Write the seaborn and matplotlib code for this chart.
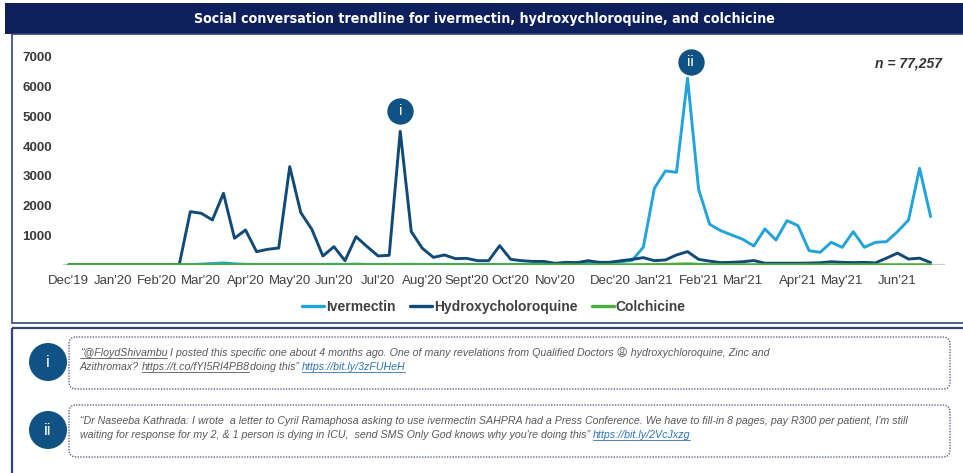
import matplotlib
matplotlib.use("Agg")
import matplotlib.pyplot as plt
import pandas as pd
import seaborn as sns
from matplotlib.patches import Rectangle, FancyBboxPatch, Circle
from matplotlib.font_manager import FontProperties

# weekly mention counts, Dec'19 -> Jun'21 (79 weeks)
ivermectin = [10, 10, 10, 10, 10, 10, 10, 10, 10, 10, 10,
              15, 30, 50, 70, 40, 25, 20, 20, 20, 20,
              20, 20, 20, 25, 20, 30, 20, 20, 20, 20,
              25, 20, 20, 20, 20, 20, 20, 20, 20, 20,
              20, 20, 20, 30, 60, 70, 90, 80, 90, 110,
              160, 600, 2580, 3165, 3120, 6286, 2549, 1370, 1156, 1010,
              865, 640, 1212, 842, 1493, 1324, 482, 426, 763, 595,
              1122, 595, 763, 785, 1122, 1515, 3254, 1627]
hydroxy = [5, 5, 5, 5, 5, 5, 5, 5, 5, 5, 10,
           1795, 1740, 1515, 2414, 900, 1178, 448, 528, 572, 3310,
           1762, 1200, 303, 617, 145, 953, 620, 303, 327, 4500,
           1122, 561, 258, 337, 213, 224, 145, 145, 650, 190,
           145, 120, 120, 56, 90, 80, 145, 90, 90, 145,
           190, 247, 145, 170, 337, 450, 190, 130, 80, 90,
           110, 150, 60, 60, 60, 60, 65, 75, 110, 90,
           80, 90, 70, 230, 400, 200, 230, 80]
colchicine = [8, 8, 8, 8, 8, 8, 8, 8, 8, 8, 8,
              10, 10, 12, 12, 10, 10, 10, 10, 10, 10,
              10, 10, 10, 10, 10, 12, 10, 10, 10, 10,
              10, 10, 10, 10, 10, 10, 10, 10, 10, 10,
              10, 10, 10, 10, 10, 10, 10, 10, 10, 10,
              12, 15, 15, 20, 30, 40, 25, 15, 12, 10,
              10, 10, 10, 10, 10, 10, 10, 10, 10, 10,
              10, 10, 10, 10, 10, 10, 10, 10]

tick_weeks = [0, 4, 8, 12, 16, 20, 24, 28, 32, 36, 40, 44, 49, 53, 57, 61, 66, 70, 75]
tick_labels = ["Dec'19", "Jan'20", "Feb'20", "Mar'20", "Apr'20", "May'20", "Jun'20",
               "Jul'20", "Aug'20", "Sept'20", "Oct'20", "Nov'20", "Dec'20", "Jan'21",
               "Feb'21", "Mar'21", "Apr'21", "May'21", "Jun'21"]

drugs = ["Ivermectin", "Hydroxycholoroquine", "Colchicine"]
colors = ["#22a3d9", "#114a77", "#4aac3c"]

df = pd.concat([
    pd.DataFrame({"week": range(len(v)), "mentions": v, "drug": d})
    for d, v in zip(drugs, [ivermectin, hydroxy, colchicine])
])

sns.set_style("white")
plt.rcParams["font.family"] = ["Liberation Sans", "DejaVu Sans"]

fig = plt.figure(figsize=(9.63, 4.73), dpi=100)
renderer = fig.canvas.get_renderer()

# background / decoration layer in pixel coords
bg = fig.add_axes([0, 0, 1, 1])
bg.set_xlim(0, 963)
bg.set_ylim(473, 0)
bg.axis("off")

navy = "#0d1f5c"
bg.add_patch(Rectangle((5, 3), 965, 31, color=navy, lw=0))
title = "Social conversation trendline for ivermectin, hydroxychloroquine, and colchicine"
t = bg.text(484, 19, title, color="white", weight="bold", fontsize=12,
            ha="center", va="center", family="DejaVu Sans", fontstretch="condensed")
tw = t.get_window_extent(renderer).width
t.set_fontsize(12 * 578 / tw)

frame = "#34447a"
bg.add_patch(Rectangle((12, 34), 960, 289, fill=False, ec=frame, lw=1.2))
bg.add_patch(Rectangle((12, 328), 960, 150, fill=False, ec=frame, lw=1.6))

# main chart
ax = fig.add_axes([63 / 963, 1 - 265 / 473, 882 / 963, 208 / 473])
ax.patch.set_alpha(0)
ax.axhline(0, color="#c9c9c9", lw=1.6, zorder=0.5)
sns.lineplot(data=df, x="week", y="mentions", hue="drug", hue_order=drugs,
             palette=colors, lw=2.1, ax=ax)
ax.set_xlim(-0.52, 79.3)
ax.set_ylim(0, 7000)
for s in ax.spines.values():
    s.set_visible(False)
ax.set_xlabel("")
ax.set_ylabel("")
ax.set_yticks([1000, 2000, 3000, 4000, 5000, 6000, 7000])
ax.set_yticklabels(["1000", "2000", "3000", "4000", "5000", "6000", "7000"],
                   fontweight="bold", color="#3a3a3a", fontsize=9.5)
ax.set_xticks(tick_weeks)
ax.set_xticklabels(tick_labels, color="#404040", fontsize=9.5)
ax.tick_params(axis="y", length=0, pad=8)
ax.tick_params(axis="x", length=0, pad=7)

sns.move_legend(ax, "center", bbox_to_anchor=(494 / 963, 1 - 307 / 473),
                bbox_transform=fig.transFigure, ncol=3, frameon=False, title=None,
                fontsize=10, handlelength=1.6, handletextpad=0.15, columnspacing=1.0)
for txt in ax.get_legend().get_texts():
    txt.set_fontweight("bold")
    txt.set_color("#404040")
for ln in ax.get_legend().get_lines():
    ln.set_linewidth(2.4)

badge = "#0f5283"
for wk, val, lab in [(30, 5185, "i"), (56.3, 6835, "ii")]:
    ax.scatter([wk], [val], s=360, color=badge, zorder=6, clip_on=False, linewidths=0)
    ax.text(wk, val, lab, color="white", ha="center", va="center", fontsize=11, zorder=7)

bg.text(942, 63, "n = 77,257", ha="right", va="center", fontsize=10,
        fontweight="bold", fontstyle="italic", color="#333333")

# quote boxes
for cy, lab in [(362, "i"), (430, "ii")]:
    bg.add_patch(Circle((48, cy), 19, color=badge, lw=0))
    bg.text(48, cy, lab, color="white", ha="center", va="center", fontsize=12)
for top in [337, 405]:
    bg.add_patch(FancyBboxPatch((69, top), 881, 52,
                                boxstyle="round,pad=0,rounding_size=7",
                                fill=False, ec="#5b6585", lw=1.0, ls=(0, (1, 1))))

prop = FontProperties(family=["Liberation Sans", "DejaVu Sans"], style="italic", size=7.7)
gray = "#595959"
link = "#2e74b5"
space = (renderer.get_text_width_height_descent("a a", prop, ismath=False)[0]
         - renderer.get_text_width_height_descent("aa", prop, ismath=False)[0])


def rich(x, y, parts):
    # parts: (text, colour, underline); spaces at the ends are advanced by hand
    for txt, col, ul in parts:
        core = txt.strip(" ")
        x += space * (len(txt) - len(txt.lstrip(" ")))
        if core:
            tt = bg.text(x, y, core, fontproperties=prop, color=col, va="baseline", ha="left")
            bb = tt.get_window_extent(renderer)
            if ul:
                bg.plot([x, x + bb.width - 1], [y + 1.8, y + 1.8], color=col, lw=0.6)
            x += bb.width
        x += space * (len(txt) - len(txt.rstrip(" ")))


rich(80, 356, [("“@FloydShivambu", gray, True),
               (" I posted this specific one about 4 months ago. One of many revelations "
                "from Qualified Doctors 😩 hydroxychloroquine, Zinc and", gray, False)])
rich(80, 370, [("Azithromax? ", gray, False), ("https://t.co/fYI5RI4PB8", gray, True),
               ("doing this” ", gray, False), ("https://bit.ly/3zFUHeH", link, True)])
rich(80, 424, [("“Dr Naseeba Kathrada: I wrote  a letter to Cyril Ramaphosa asking to use "
                "ivermectin SAHPRA had a Press Conference. We have to fill-in 8 pages, pay "
                "R300 per patient, I'm still", gray, False)])
rich(80, 438, [("waiting for response for my 2, & 1 person is dying in ICU,  send SMS Only "
                "God knows why you're doing this” ", gray, False),
               ("https://bit.ly/2VcJxzg", link, True)])

fig.savefig("out.png", dpi=100)
